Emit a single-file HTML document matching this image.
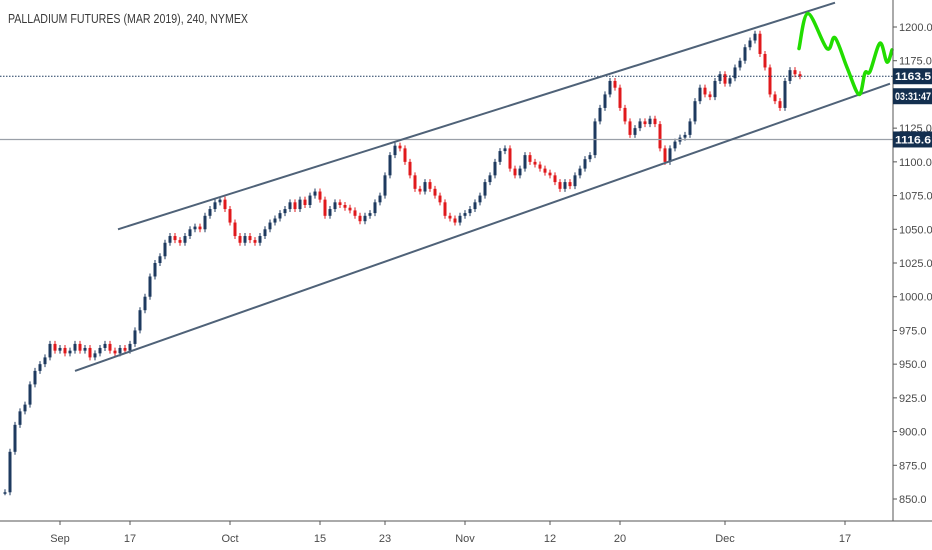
<!DOCTYPE html>
<html><head><meta charset="utf-8"><style>
html,body{margin:0;padding:0;background:#fff;width:932px;height:550px;overflow:hidden;font-family:"Liberation Sans",sans-serif}
svg{display:block}
</style></head><body>
<svg id="chart" width="932" height="550" viewBox="0 0 932 550">
<rect x="0" y="0" width="932" height="550" fill="#fff"/>
<text x="8" y="23" font-size="13" fill="#3a3a3a" textLength="240" lengthAdjust="spacingAndGlyphs">PALLADIUM FUTURES (MAR 2019), 240, NYMEX</text>
<g id="candles"></g>
<g id="overlay"></g>
<line x1="893" y1="0" x2="893" y2="521" stroke="#555" stroke-width="1"/>
<line x1="0" y1="521" x2="932" y2="521" stroke="#555" stroke-width="1"/>
<g id="yaxis"></g>
<g id="xaxis"></g>
</svg>
<script>
const closes=[855,885,905,915,920,935,945,950,955,965,960,962,958,960,965,960,962,955,958,962,965,960,958,962,960,965,975,990,1000,1015,1025,1030,1040,1045,1042,1040,1045,1050,1052,1050,1060,1065,1070,1072,1065,1055,1045,1040,1045,1042,1040,1045,1050,1055,1058,1062,1065,1070,1065,1072,1068,1075,1078,1072,1060,1065,1070,1068,1066,1064,1060,1056,1060,1062,1070,1075,1090,1105,1112,1110,1100,1090,1080,1078,1085,1080,1075,1070,1060,1058,1055,1060,1062,1065,1070,1075,1085,1090,1100,1108,1110,1095,1090,1095,1105,1100,1098,1095,1092,1090,1085,1080,1085,1082,1090,1095,1102,1105,1130,1140,1150,1160,1155,1140,1130,1120,1125,1130,1128,1132,1128,1110,1100,1110,1115,1118,1120,1130,1145,1155,1150,1148,1160,1165,1158,1162,1170,1175,1185,1190,1195,1180,1170,1150,1145,1140,1160,1168,1165,1163.5];
const priceTicks=[850,875,900,925,950,975,1000,1025,1050,1075,1100,1125,1150,1175,1200];
const timeLabels=["Sep","17","Oct","15","23","Nov","12","20","Dec","17"];
const timeBarIdx=[11,25,45,63,76,92,109,123,144,168];
const lastPrice=1163.5, hLinePrice=1116.6;
const upperChannel=[[118,1050],[835,1218]];
const lowerChannel=[[75,945],[890,1158]];
const projection=[[799,1184],[808,1210],[827,1184],[835,1192],[847,1170],[859,1150],[865,1166],[870,1167],[880,1188],[887,1174],[892,1183]];
const NS="http://www.w3.org/2000/svg";
const y=p=>27+(1200-p)*1.3486;
const x=i=>5+i*5;
function mk(t,a,parent){const e=document.createElementNS(NS,t);for(const k in a)e.setAttribute(k,a[k]);parent.appendChild(e);return e;}
const cg=document.getElementById('candles');
closes.forEach((c,i)=>{
  const o=i?closes[i-1]:c;
  const up=c>=o, col=up?'#1e3a5f':'#e0191c';
  const top=y(Math.max(o,c)), bot=y(Math.min(o,c));
  const w=mk('line',{x1:x(i),x2:x(i),y1:top-3,y2:bot+3,stroke:col,'stroke-width':1},cg);
  
  
  const r=mk('rect',{x:x(i)-1.5,y:top,width:3,height:Math.max(1.5,bot-top),fill:col},cg);
  
  
});
const ov=document.getElementById('overlay');
const hl=mk('line',{x1:0,x2:893,y1:y(hLinePrice),y2:y(hLinePrice),stroke:'#9aa0a8','stroke-width':1.2},ov);


const dl=mk('line',{x1:0,x2:893,y1:y(lastPrice),y2:y(lastPrice),stroke:'#1e3a5f','stroke-width':1,'stroke-dasharray':'1.5 1.5'},ov);


const u=mk('line',{x1:upperChannel[0][0],y1:y(upperChannel[0][1]),x2:upperChannel[1][0],y2:y(upperChannel[1][1]),stroke:'#4f6278','stroke-width':2},ov);


const l=mk('line',{x1:lowerChannel[0][0],y1:y(lowerChannel[0][1]),x2:lowerChannel[1][0],y2:y(lowerChannel[1][1]),stroke:'#4f6278','stroke-width':2},ov);


let pts=projection.map(p=>[p[0],y(p[1])]);
let d='M'+pts[0][0]+','+pts[0][1];
for(let i=0;i<pts.length-1;i++){const p0=pts[i-1]||pts[i],p1=pts[i],p2=pts[i+1],p3=pts[i+2]||p2;
 d+=' C'+(p1[0]+(p2[0]-p0[0])/6)+','+(p1[1]+(p2[1]-p0[1])/6)+' '+(p2[0]-(p3[0]-p1[0])/6)+','+(p2[1]-(p3[1]-p1[1])/6)+' '+p2[0]+','+p2[1];}
const g=mk('path',{d:d,fill:'none',stroke:'#22dd00','stroke-width':3.5,'stroke-linecap':'round','stroke-linejoin':'round'},ov);


const ya=document.getElementById('yaxis');
priceTicks.forEach(p=>{
  const t=mk('line',{x1:893,x2:897,y1:y(p),y2:y(p),stroke:'#555'},ya);
  
  
  const tx=mk('text',{x:899,y:y(p)+4,'font-size':11,fill:'#4a4a4a'},ya);
  tx.textContent=p.toFixed(1);
  
  
});
function badge(p,txt,name,dy){
  const yy=y(p)+(dy||0);
  const r=mk('rect',{x:893,y:yy-8,width:39,height:16,fill:'#132f4f'},ya);
  
  
  const t=mk('text',{x:895,y:yy+4,'font-size':11,fill:'#fff','font-weight':'bold',textLength:36,lengthAdjust:'spacingAndGlyphs'},ya);
  t.textContent=txt;
  
  
}
badge(lastPrice,'1163.5','last-price-badge',0);
badge(lastPrice,'03:31:47','countdown-badge',20);
badge(hLinePrice,'1116.6','level-price-badge',0);
const xa=document.getElementById('xaxis');
timeLabels.forEach((s,k)=>{
  const xx=x(timeBarIdx[k]);
  const t=mk('line',{x1:xx,x2:xx,y1:521,y2:525,stroke:'#555'},xa);
  
  
  const tx=mk('text',{x:xx,y:542,'font-size':11,fill:'#4a4a4a','text-anchor':'middle'},xa);
  tx.textContent=s;
  
  
});
</script>
</body></html>
